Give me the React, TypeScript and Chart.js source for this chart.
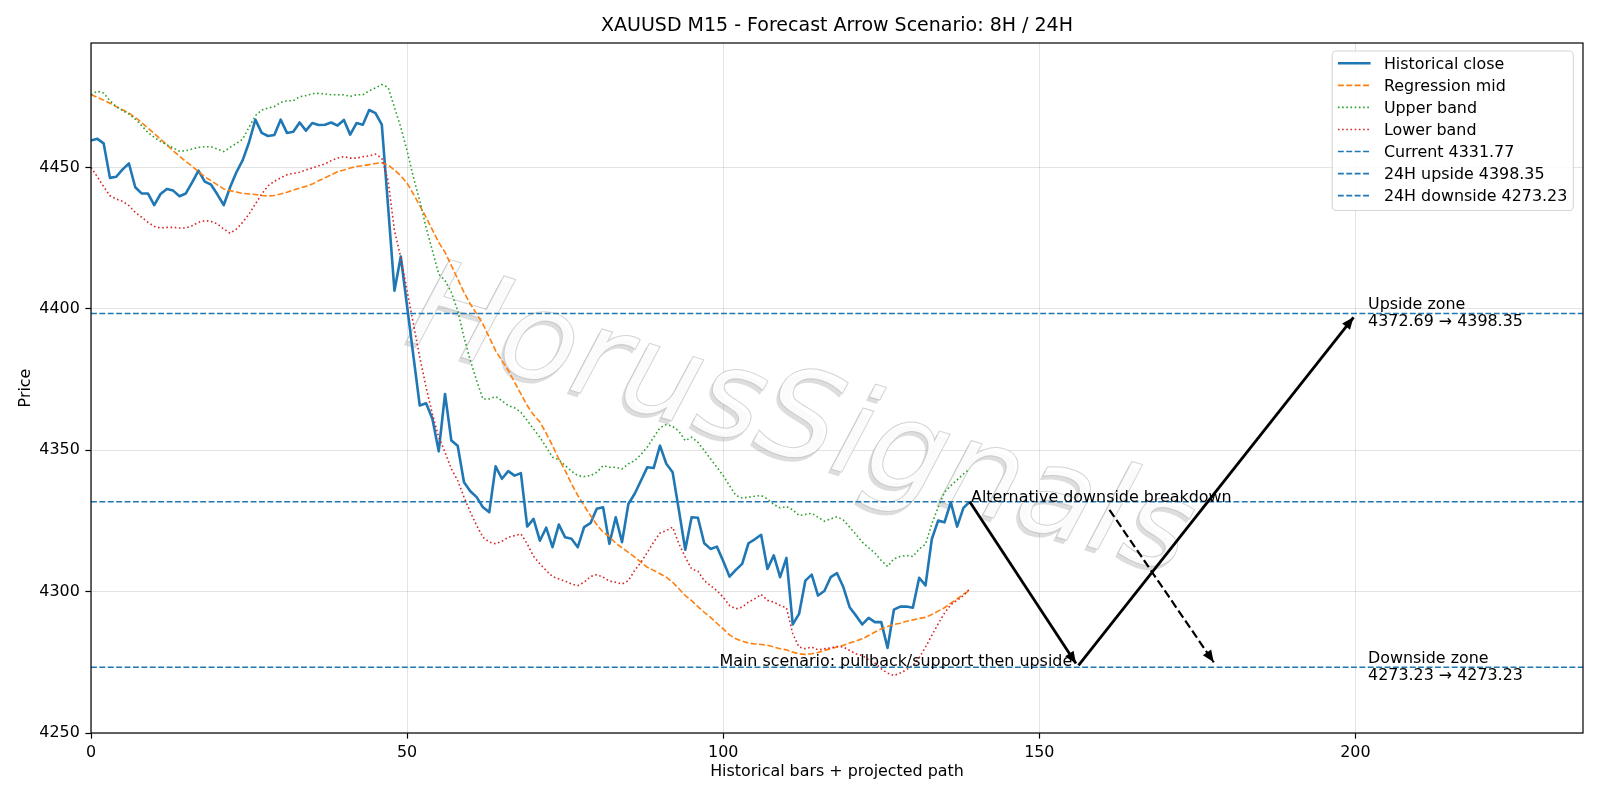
import React, { useEffect, useRef } from "react";
import { Chart, registerables } from "chart.js";

Chart.register(...registerables);

const FONT = "'DejaVu Sans', 'Liberation Sans', sans-serif";
const TXT = 15.9;

// ---- data ----
const histClose = [
  4459.5, 4460.1, 4458.5, 4446.3, 4446.7, 4449.3, 4451.4, 4443.0, 4440.8, 4440.8,
  4436.7, 4440.6, 4442.4, 4441.8, 4439.8, 4440.8, 4444.7, 4448.9, 4445.0, 4443.9,
  4440.4, 4436.7, 4443.0, 4448.3, 4452.6, 4458.9, 4466.9, 4462.2, 4461.1, 4461.5,
  4466.9, 4462.2, 4462.6, 4465.9, 4463.0, 4465.7, 4465.0, 4465.1, 4465.9, 4464.8,
  4466.8, 4461.6, 4465.7, 4465.1, 4470.3, 4469.2, 4465.1, 4436.0, 4406.4, 4418.5,
  4400.9, 4383.3, 4365.8, 4366.6, 4361.1, 4349.6, 4369.9, 4353.4, 4351.6, 4338.7,
  4335.5, 4333.4, 4329.8, 4328.1, 4344.3, 4339.9, 4342.6, 4341.0, 4341.9, 4323.0,
  4325.7, 4318.0, 4322.6, 4315.7, 4323.7, 4319.2, 4318.7, 4315.7, 4322.8, 4324.2,
  4329.3, 4329.8, 4316.9, 4326.3, 4317.5, 4331.0, 4334.6, 4339.3, 4344.0, 4343.7,
  4351.6, 4345.2, 4342.2, 4328.7, 4314.8, 4326.3, 4326.1, 4317.1, 4315.1, 4315.9,
  4310.8, 4305.3, 4307.7, 4309.8, 4317.1, 4318.5, 4320.1, 4308.0, 4312.8, 4305.1,
  4311.9, 4288.4, 4292.1, 4303.9, 4306.0, 4298.6, 4300.2, 4305.1, 4306.5, 4301.6,
  4294.5, 4291.5, 4288.4, 4290.7, 4289.2, 4289.2, 4280.1, 4293.6, 4294.7, 4294.7,
  4294.3, 4304.9, 4302.2, 4318.6, 4325.1, 4324.5, 4331.6, 4323.0, 4329.6, 4331.77,
];

const regMid = [
  4475.7, 4474.8, 4473.8, 4472.7, 4471.5, 4470.4, 4469.2, 4467.7, 4465.9, 4463.9,
  4462.0, 4460.0, 4458.0, 4455.9, 4454.0, 4452.1, 4450.4, 4448.5, 4446.7, 4445.3,
  4443.8, 4442.4, 4441.8, 4441.3, 4440.8, 4440.6, 4440.4, 4440.1, 4439.9, 4440.1,
  4440.6, 4441.2, 4442.0, 4442.7, 4443.3, 4444.1, 4445.3, 4446.3, 4447.4, 4448.5,
  4449.1, 4449.8, 4450.3, 4450.6, 4451.0, 4451.4, 4451.7, 4450.9, 4449.1, 4447.1,
  4444.4, 4440.6, 4436.5, 4432.4, 4427.9, 4423.5, 4420.0, 4415.3, 4410.6, 4405.8,
  4401.7, 4398.2, 4394.6, 4389.9, 4385.2, 4381.7, 4378.2, 4374.0, 4369.9, 4365.8,
  4362.5, 4360.0, 4356.0, 4351.6, 4346.9, 4342.8, 4338.1, 4334.0, 4330.4, 4326.9,
  4323.7, 4321.0, 4319.5, 4317.1, 4315.5, 4313.9, 4312.2, 4310.4, 4308.6, 4307.5,
  4306.3, 4305.1, 4303.3, 4301.0, 4298.6, 4296.8, 4294.7, 4292.7, 4290.9, 4288.8,
  4286.8, 4284.7, 4283.3, 4282.5, 4281.8, 4281.5, 4281.3, 4281.0, 4280.4, 4279.8,
  4279.4, 4278.6, 4278.0, 4277.8, 4278.0, 4278.5, 4279.2, 4279.8, 4280.4, 4281.0,
  4281.8, 4282.5, 4283.3, 4284.5, 4285.7, 4286.8, 4287.7, 4288.4, 4288.8, 4289.5,
  4290.0, 4290.5, 4290.9, 4291.9, 4293.1, 4294.3, 4295.9, 4297.4, 4299.0, 4300.6,
];

const upperBand = [
  4475.7, 4477.0, 4476.3, 4473.6, 4471.5, 4470.1, 4468.9, 4467.1, 4464.8, 4462.4,
  4460.6, 4459.2, 4458.0, 4456.9, 4455.7, 4455.9, 4456.5, 4457.1, 4457.3, 4457.3,
  4456.5, 4455.6, 4457.1, 4458.5, 4460.0, 4464.2, 4468.3, 4470.3, 4471.0, 4471.5,
  4473.0, 4473.6, 4473.6, 4475.0, 4475.4, 4476.1, 4476.2, 4476.0, 4475.7, 4475.7,
  4475.7, 4475.1, 4475.7, 4475.7, 4477.1, 4478.1, 4479.3, 4478.3, 4471.2, 4464.2,
  4455.9, 4446.5, 4438.2, 4428.8, 4420.6, 4412.3, 4410.0, 4405.8, 4399.4, 4389.9,
  4381.7, 4374.6, 4368.1, 4368.1, 4369.0, 4367.5, 4365.8, 4365.0, 4363.4, 4360.5,
  4357.5, 4354.6, 4351.1, 4347.5, 4346.6, 4344.6, 4342.6, 4341.0, 4340.7, 4341.0,
  4342.2, 4344.5, 4344.0, 4344.0, 4343.4, 4345.2, 4346.3, 4348.5, 4351.1, 4354.6,
  4357.9, 4359.1, 4358.4, 4356.7, 4353.4, 4354.6, 4352.8, 4349.9, 4346.9, 4344.0,
  4341.0, 4337.5, 4334.0, 4333.1, 4333.4, 4333.7, 4334.0, 4332.8, 4330.8, 4329.6,
  4330.1, 4328.9, 4326.9, 4327.3, 4327.7, 4326.3, 4324.9, 4325.7, 4326.5, 4325.3,
  4322.8, 4320.2, 4317.5, 4315.5, 4313.6, 4311.0, 4308.9, 4311.6, 4312.4, 4312.8,
  4312.4, 4315.1, 4316.7, 4324.0, 4329.8, 4335.1, 4337.5, 4339.5, 4341.6, 4343.4,
];

const lowerBand = [
  4450.0, 4446.7, 4443.2, 4440.0, 4438.8, 4438.0, 4436.5, 4434.1, 4432.4, 4430.6,
  4429.1, 4428.6, 4428.8, 4428.8, 4428.6, 4428.6, 4429.4, 4430.6, 4431.2, 4430.9,
  4430.0, 4428.2, 4426.7, 4428.2, 4430.6, 4433.5, 4437.1, 4440.6, 4443.5, 4445.1,
  4446.3, 4447.4, 4447.9, 4448.3, 4449.1, 4449.8, 4450.6, 4451.2, 4452.4, 4453.3,
  4453.8, 4453.3, 4453.3, 4453.8, 4454.1, 4454.7, 4453.3, 4445.3, 4427.6, 4418.2,
  4406.4, 4394.6, 4382.9, 4372.3, 4362.8, 4354.6, 4349.3, 4343.4, 4339.3, 4333.4,
  4328.1, 4323.4, 4319.2, 4317.5, 4316.9, 4317.8, 4319.2, 4319.8, 4320.4, 4316.9,
  4312.5, 4309.8, 4307.5, 4305.3, 4304.5, 4303.7, 4302.7, 4302.1, 4303.3, 4305.3,
  4306.0, 4305.1, 4303.7, 4303.3, 4302.7, 4303.9, 4307.5, 4310.4, 4313.9, 4317.5,
  4320.7, 4321.6, 4322.8, 4316.9, 4312.2, 4308.0, 4307.2, 4303.9, 4302.1, 4300.4,
  4298.0, 4295.1, 4293.9, 4294.5, 4296.3, 4297.5, 4299.0, 4296.9, 4296.3, 4295.1,
  4294.3, 4285.1, 4280.4, 4279.8, 4280.4, 4279.4, 4279.8, 4280.1, 4280.6, 4280.4,
  4279.2, 4278.0, 4277.4, 4275.9, 4274.7, 4272.7, 4271.2, 4270.3, 4271.2, 4272.4,
  4273.9, 4276.6, 4280.4, 4284.5, 4288.6, 4292.4, 4295.4, 4296.9, 4298.6, 4301.0,
];

const currentPrice = 4331.77;
const upsideFrom = 4372.69;
const upsideTarget = 4398.35;
const downsideFrom = 4273.23;
const downsideTarget = 4273.23;

const xRange = [0, 236];
const yRange = [4250, 4494];
const xTickValues = [0, 50, 100, 150, 200];
const yTickValues = [4250, 4300, 4350, 4400, 4450];

// projected path arrows (bar index, price)
const mainDownX = [139, 155.8];
const mainDownY = [4331.77, 4274.6];
const mainUpX = [156.2, 199.7];
const mainUpY = [4273.9, 4397.0];
const altDownX = [161.1, 177.6];
const altDownY = [4328.9, 4275.0];

const altLabelX = 139.2;
const mainLabelX = 155.2;
const zoneLabelX = 202;

const TITLE = "XAUUSD M15 - Forecast Arrow Scenario: 8H / 24H";
const WATERMARK = "HorusSignals";

const series = (arr: number[]) => arr.map((y, i) => ({ x: i, y }));
const pair = (xs: number[], ys: number[]) => xs.map((x, i) => ({ x, y: ys[i] }));
const hline = (v: number) => pair(xRange, [v, v]);

const DASH = [5.9, 2.5];
const DOT = [1.6, 2.6];

const overlayPlugin = {
  id: "overlay",
  beforeDatasetsDraw(chart: any) {
    const { ctx, chartArea: a } = chart;
    ctx.save();
    ctx.beginPath();
    ctx.rect(a.left, a.top, a.right - a.left, a.bottom - a.top);
    ctx.clip();
    const cx = 800;
    const cy = 426;
    const ang = (16.8 * Math.PI) / 180;
    ctx.font = `italic 124px ${FONT}`;
    ctx.textAlign = "center";
    ctx.textBaseline = "middle";
    // shadow
    ctx.save();
    ctx.translate(cx - 3, cy + 4);
    ctx.rotate(ang);
    ctx.fillStyle = "rgba(150,150,150,0.32)";
    ctx.fillText(WATERMARK, 0, 0);
    ctx.restore();
    // face
    ctx.save();
    ctx.translate(cx, cy);
    ctx.rotate(ang);
    ctx.fillStyle = "rgba(255,255,255,0.9)";
    ctx.fillText(WATERMARK, 0, 0);
    ctx.strokeStyle = "rgba(170,170,170,0.5)";
    ctx.lineWidth = 1;
    ctx.strokeText(WATERMARK, 0, 0);
    ctx.restore();
    ctx.restore();
  },
  afterDatasetsDraw(chart: any) {
    const { ctx, chartArea: a, scales } = chart;
    const xs = scales.x;
    const ys = scales.y;
    // arrow heads
    chart.data.datasets.forEach((ds: any, i: number) => {
      if (!ds.arrow) return;
      const meta = chart.getDatasetMeta(i);
      const pts = meta.data;
      const p0 = pts[pts.length - 2];
      const p1 = pts[pts.length - 1];
      const ang = Math.atan2(p1.y - p0.y, p1.x - p0.x);
      const L = 12;
      const W = 5;
      ctx.save();
      ctx.translate(p1.x, p1.y);
      ctx.rotate(ang);
      ctx.beginPath();
      ctx.moveTo(0, 0);
      ctx.lineTo(-L, -W);
      ctx.lineTo(-L, W);
      ctx.closePath();
      ctx.fillStyle = "#000";
      ctx.fill();
      ctx.restore();
    });

    // spines
    ctx.save();
    ctx.strokeStyle = "#000";
    ctx.lineWidth = 1.2;
    ctx.strokeRect(a.left, a.top, a.right - a.left, a.bottom - a.top);
    ctx.restore();

    // annotations
    ctx.save();
    ctx.fillStyle = "#000";
    ctx.font = `${TXT}px ${FONT}`;
    ctx.textBaseline = "alphabetic";
    ctx.textAlign = "left";
    ctx.fillText("Alternative downside breakdown", xs.getPixelForValue(altLabelX), ys.getPixelForValue(currentPrice) + 0.5);
    ctx.textAlign = "right";
    ctx.fillText("Main scenario: pullback/support then upside", xs.getPixelForValue(mainLabelX), ys.getPixelForValue(downsideTarget) - 1);
    ctx.textAlign = "left";
    const zx = xs.getPixelForValue(zoneLabelX);
    const uy = ys.getPixelForValue(upsideTarget);
    ctx.fillText("Upside zone", zx, uy - 4.4);
    ctx.fillText(`${upsideFrom.toFixed(2)} \u2192 ${upsideTarget.toFixed(2)}`, zx, uy + 12.6);
    const dy = ys.getPixelForValue(downsideTarget);
    ctx.fillText("Downside zone", zx, dy - 4.2);
    ctx.fillText(`${downsideFrom.toFixed(2)} \u2192 ${downsideTarget.toFixed(2)}`, zx, dy + 12.6);
    ctx.restore();
  },
  afterDraw(chart: any) {
    const { ctx, chartArea: a } = chart;
    const items = chart.data.datasets.filter((d: any) => d.inLegend);
    ctx.save();
    ctx.font = `${TXT}px ${FONT}`;
    let maxW = 0;
    items.forEach((d: any) => {
      maxW = Math.max(maxW, ctx.measureText(d.label).width);
    });
    const boxRight = a.right - 9.7;
    const boxTop = a.top + 8;
    const boxW = 51.7 + maxW + 6;
    const boxH = 159.5;
    const boxLeft = boxRight - boxW;
    ctx.beginPath();
    ctx.roundRect(boxLeft, boxTop, boxW, boxH, 4);
    ctx.fillStyle = "rgba(255,255,255,0.85)";
    ctx.fill();
    ctx.strokeStyle = "#d6d6d6";
    ctx.lineWidth = 1.1;
    ctx.stroke();
    items.forEach((d: any, k: number) => {
      const ry = boxTop + 12.3 + k * 22.06;
      ctx.save();
      ctx.strokeStyle = d.borderColor;
      ctx.lineWidth = d.borderWidth;
      ctx.setLineDash(d.borderDash || []);
      ctx.beginPath();
      ctx.moveTo(boxLeft + 5.7, ry);
      ctx.lineTo(boxLeft + 38.4, ry);
      ctx.stroke();
      ctx.restore();
      ctx.fillStyle = "#000";
      ctx.textAlign = "left";
      ctx.textBaseline = "alphabetic";
      ctx.fillText(d.label, boxLeft + 51.7, ry + 5.2);
    });
    ctx.restore();
  },
};

export default function App() {
  const ref = useRef<HTMLCanvasElement | null>(null);

  useEffect(() => {
    if (!ref.current) return;
    Chart.defaults.font.family = FONT;
    Chart.defaults.color = "#000";

    const lineBase = {
      pointRadius: 0,
      pointHoverRadius: 0,
      tension: 0,
      fill: false,
      borderJoinStyle: "round",
    };

    const datasets: any[] = [
      { ...lineBase, label: "Historical close", inLegend: true, data: series(histClose), borderColor: "#1f77b4", borderWidth: 2.6, order: 10 },
      { ...lineBase, label: "Regression mid", inLegend: true, data: series(regMid), borderColor: "#ff7f0e", borderWidth: 1.6, borderDash: DASH, order: 9 },
      { ...lineBase, label: "Upper band", inLegend: true, data: series(upperBand), borderColor: "#2ca02c", borderWidth: 1.6, borderDash: DOT, order: 8 },
      { ...lineBase, label: "Lower band", inLegend: true, data: series(lowerBand), borderColor: "#d62728", borderWidth: 1.6, borderDash: DOT, order: 7 },
      { ...lineBase, label: `Current ${currentPrice.toFixed(2)}`, inLegend: true, data: hline(currentPrice), borderColor: "#1f77b4", borderWidth: 1.6, borderDash: DASH, order: 6 },
      { ...lineBase, label: `24H upside ${upsideTarget.toFixed(2)}`, inLegend: true, data: hline(upsideTarget), borderColor: "#1f77b4", borderWidth: 1.6, borderDash: DASH, order: 5 },
      { ...lineBase, label: `24H downside ${downsideTarget.toFixed(2)}`, inLegend: true, data: hline(downsideTarget), borderColor: "#1f77b4", borderWidth: 1.6, borderDash: DASH, order: 4 },
      { ...lineBase, label: "main-down", arrow: true, data: pair(mainDownX, mainDownY), borderColor: "#000", borderWidth: 2.8, order: 3 },
      { ...lineBase, label: "main-up", arrow: true, data: pair(mainUpX, mainUpY), borderColor: "#000", borderWidth: 2.8, order: 2 },
      { ...lineBase, label: "alt-down", arrow: true, data: pair(altDownX, altDownY), borderColor: "#000", borderWidth: 2.2, borderDash: [8.5, 3.7], order: 1 },
    ];

    const gridColor = "rgba(176,176,176,0.35)";

    const chart = new Chart(ref.current, {
      type: "line",
      data: { datasets },
      plugins: [overlayPlugin],
      options: {
        animation: false,
        responsive: false,
        devicePixelRatio: 1,
        events: [],
        layout: { padding: { left: 0, right: 17, top: 0, bottom: 0 } },
        plugins: {
          legend: { display: false },
          tooltip: { enabled: false },
          title: {
            display: true,
            text: TITLE,
            fullSize: false,
            color: "#000",
            font: { family: FONT, size: 19, weight: "normal", lineHeight: 1.2 },
            padding: { top: 15.1, bottom: 5.1 },
          },
        },
        scales: {
          x: {
            type: "linear",
            min: xRange[0],
            max: xRange[1],
            afterFit: (s: any) => {
              s.height = 67;
            },
            afterBuildTicks: (s: any) => {
              s.ticks = xTickValues.map((v) => ({ value: v }));
            },
            ticks: {
              font: { family: FONT, size: TXT },
              color: "#000",
              padding: 4.5,
              maxRotation: 0,
              autoSkip: false,
              callback: (v: any) => String(v),
            },
            grid: {
              color: gridColor,
              lineWidth: 1,
              drawTicks: true,
              tickLength: 5.6,
              tickColor: "#000",
              tickWidth: 1.2,
            },
            border: { display: false },
            title: {
              display: true,
              text: "Historical bars + projected path",
              color: "#000",
              font: { family: FONT, size: TXT, lineHeight: 1.2 },
              padding: { top: 0, bottom: 19 },
            },
          },
          y: {
            type: "linear",
            min: yRange[0],
            max: yRange[1],
            afterFit: (s: any) => {
              s.width = 91;
            },
            afterBuildTicks: (s: any) => {
              s.ticks = yTickValues.map((v) => ({ value: v }));
            },
            ticks: {
              font: { family: FONT, size: TXT },
              color: "#000",
              padding: 5.6,
              autoSkip: false,
              callback: (v: any) => String(v),
            },
            grid: {
              color: gridColor,
              lineWidth: 1,
              drawTicks: true,
              tickLength: 5.6,
              tickColor: "#000",
              tickWidth: 1.2,
            },
            border: { display: false },
            title: {
              display: true,
              text: "Price",
              color: "#000",
              font: { family: FONT, size: TXT, lineHeight: 1.2 },
              padding: { top: 16, bottom: 0 },
            },
          },
        },
      } as any,
    });

    return () => {
      chart.destroy();
    };
  }, []);

  return (
    <div style={{ position: "fixed", left: 0, top: 0, width: 1600, height: 800, background: "#fff" }}>
      <canvas ref={ref} width={1600} height={800} style={{ display: "block", width: 1600, height: 800 }} />
    </div>
  );
}
